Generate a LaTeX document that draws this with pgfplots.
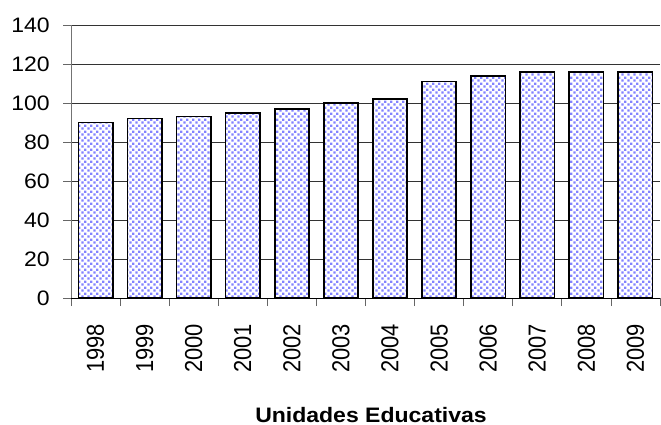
\documentclass[border=0pt]{standalone}
\usepackage{fontspec}
\setmainfont{Liberation Sans}
\usepackage{pgfplots}
\pgfplotsset{compat=1.18}
\usetikzlibrary{patterns.meta}
\tikzdeclarepattern{
  name=bluedots, type=uncolored,
  bottom left={(0bp,0bp)}, top right={(5.8bp,5.8bp)}, tile size={(5.8bp,5.8bp)},
  code={\fill (0.3bp,0.3bp) rectangle (2.6bp,2.6bp); \fill (3.2bp,3.2bp) rectangle (5.5bp,5.5bp);}
}
\definecolor{dotblue}{RGB}{130,130,255}
\begin{document}
\begin{tikzpicture}
\useasboundingbox (0,0) rectangle (661bp,425bp);
\begin{axis}[
  at={(71bp,127bp)}, anchor=south west,
  scale only axis, width=589bp, height=273bp,
  xmin=-0.5, xmax=11.5, ymin=0, ymax=140,
  axis lines*=left,
  x axis line style={black, line width=0.8bp},
  y axis line style={black!55, line width=0.8bp},
  ytick={0,20,...,140},
  ymajorgrids,
  grid style={black!80, line width=0.7bp},
  xtick={-0.5,0.5,...,11.5},
  xticklabels={1998,1999,2000,2001,2002,2003,2004,2005,2006,2007,2008,2009,{}},
  major tick length=8bp,
  tick align=outside,
  tick style={black!60, line width=0.8bp},
  /pgf/number format/assume math mode=true,
  yticklabel style={font=\fontsize{21}{25}\selectfont, inner sep=0pt, xshift=-13bp, xscale=1.1},
  xticklabel style={font=\fontsize{22}{26}\selectfont, xshift=24.54bp, xscale=1.12, rotate=90, anchor=east, inner sep=0pt},
  xticklabel shift=18bp,
  ybar, bar width=0.7,
]
\addplot[draw=black, line width=1.7bp, preaction={fill=white},
  pattern={bluedots}, pattern color=dotblue]
  coordinates {(0,90) (1,92) (2,93) (3,95) (4,97) (5,100) (6,102) (7,111) (8,114) (9,116) (10,116) (11,116)};
\end{axis}
\node[font=\bfseries\fontsize{21}{25}\selectfont, anchor=base, xscale=1.1] at (371bp,3bp) {Unidades Educativas};
\end{tikzpicture}
\end{document}
